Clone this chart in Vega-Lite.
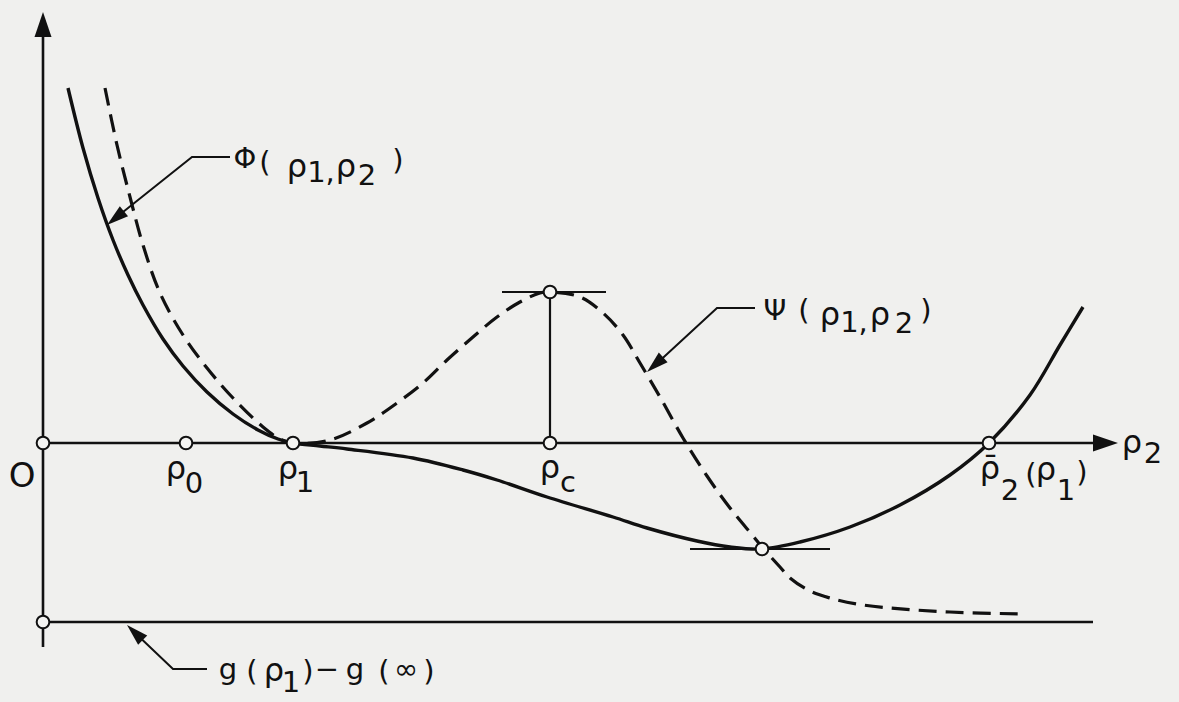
{
  "$schema": "https://vega.github.io/schema/vega-lite/v6.json",
  "autosize": {"type": "fit", "contains": "padding"},
  "width": 1179,
  "height": 702,
  "padding": 0,
  "background": "#f0f0ee",
  "config": {"view": {"stroke": null}},
  "datasets": {
    "phi": [
      {"x": 0.25, "y": 3.55}, {"x": 0.40, "y": 2.95}, {"x": 0.55, "y": 2.45}, {"x": 0.70, "y": 2.03},
      {"x": 0.85, "y": 1.68}, {"x": 1.00, "y": 1.38}, {"x": 1.20, "y": 1.04}, {"x": 1.40, "y": 0.77},
      {"x": 1.64, "y": 0.51}, {"x": 1.90, "y": 0.29}, {"x": 2.15, "y": 0.13}, {"x": 2.35, "y": 0.04},
      {"x": 2.50, "y": 0.00}, {"x": 2.77, "y": -0.03}, {"x": 3.04, "y": -0.06}, {"x": 3.70, "y": -0.15},
      {"x": 4.20, "y": -0.27}, {"x": 4.54, "y": -0.37}, {"x": 5.04, "y": -0.54}, {"x": 5.70, "y": -0.74},
      {"x": 6.04, "y": -0.85}, {"x": 6.54, "y": -0.98}, {"x": 6.87, "y": -1.04}, {"x": 7.19, "y": -1.06},
      {"x": 7.57, "y": -0.99}, {"x": 8.07, "y": -0.84}, {"x": 8.57, "y": -0.62}, {"x": 9.07, "y": -0.32},
      {"x": 9.46, "y": 0.00}, {"x": 9.87, "y": 0.48}, {"x": 10.17, "y": 0.98}, {"x": 10.40, "y": 1.36}
    ],
    "psi": [
      {"x": 0.62, "y": 3.55}, {"x": 0.74, "y": 2.98}, {"x": 0.87, "y": 2.46}, {"x": 1.00, "y": 1.98},
      {"x": 1.17, "y": 1.50}, {"x": 1.40, "y": 1.08}, {"x": 1.64, "y": 0.75}, {"x": 1.90, "y": 0.45},
      {"x": 2.20, "y": 0.16}, {"x": 2.37, "y": 0.04}, {"x": 2.50, "y": 0.00}, {"x": 2.87, "y": 0.03},
      {"x": 3.24, "y": 0.20}, {"x": 3.54, "y": 0.40}, {"x": 3.80, "y": 0.60}, {"x": 4.04, "y": 0.83},
      {"x": 4.30, "y": 1.06}, {"x": 4.54, "y": 1.26}, {"x": 4.77, "y": 1.41}, {"x": 4.97, "y": 1.50},
      {"x": 5.07, "y": 1.51}, {"x": 5.37, "y": 1.46}, {"x": 5.60, "y": 1.30}, {"x": 5.80, "y": 1.08},
      {"x": 5.97, "y": 0.80}, {"x": 6.17, "y": 0.46}, {"x": 6.40, "y": 0.05}, {"x": 6.64, "y": -0.33},
      {"x": 6.87, "y": -0.65}, {"x": 7.10, "y": -0.93}, {"x": 7.19, "y": -1.04}, {"x": 7.37, "y": -1.24},
      {"x": 7.47, "y": -1.35}, {"x": 7.67, "y": -1.48}, {"x": 7.87, "y": -1.55}, {"x": 8.14, "y": -1.61},
      {"x": 8.47, "y": -1.65}, {"x": 9.07, "y": -1.69}, {"x": 9.80, "y": -1.71}
    ],
    "axes": [
      {"x": 0, "y": -2.04, "x2": 0, "y2": 4.12},
      {"x": 0, "y": 0, "x2": 10.55, "y2": 0},
      {"x": 0, "y": -1.79, "x2": 10.50, "y2": -1.79}
    ],
    "guides": [
      {"x": 5.07, "y": 0, "x2": 5.07, "y2": 1.51},
      {"x": 4.59, "y": 1.51, "x2": 5.63, "y2": 1.51},
      {"x": 6.47, "y": -1.06, "x2": 7.87, "y2": -1.06}
    ],
    "leaders": [
      {"id": "phi", "x": 1.87, "y": 2.86}, {"id": "phi", "x": 1.49, "y": 2.86}, {"id": "phi", "x": 0.70, "y": 2.23},
      {"id": "psi", "x": 7.12, "y": 1.35}, {"id": "psi", "x": 6.74, "y": 1.35}, {"id": "psi", "x": 6.10, "y": 0.76},
      {"id": "g", "x": 1.64, "y": -2.26}, {"id": "g", "x": 1.30, "y": -2.26}, {"id": "g", "x": 0.88, "y": -1.86}
    ],
    "heads": [
      {"kind": "axis", "x": 0, "y": 4.31, "heading": 0},
      {"kind": "axis", "x": 10.75, "y": 0, "heading": 90},
      {"kind": "leader", "x": 0.64, "y": 2.18, "heading": 231},
      {"kind": "leader", "x": 6.04, "y": 0.71, "heading": 228},
      {"kind": "leader", "x": 0.84, "y": -1.82, "heading": 314}
    ],
    "nodes": [
      {"x": 0, "y": 0}, {"x": 1.43, "y": 0}, {"x": 2.50, "y": 0}, {"x": 5.07, "y": 0},
      {"x": 5.07, "y": 1.51}, {"x": 9.46, "y": 0}, {"x": 7.19, "y": -1.06}, {"x": 0, "y": -1.79}
    ],
    "origin": [{"x": -0.21, "y": -0.44, "t": "O"}],
    "glyphs": [
      {"x": 2.02, "y": 2.75, "t": "Φ"}, {"x": 2.22, "y": 2.71, "t": "("}, {"x": 2.54, "y": 2.66, "t": "ρ"},
      {"x": 2.78, "y": 2.61, "t": "1,"}, {"x": 3.03, "y": 2.66, "t": "ρ"},
      {"x": 3.24, "y": 2.58, "t": "2"}, {"x": 3.55, "y": 2.73, "t": ")"},
      {"x": 7.32, "y": 1.23, "t": "Ψ"}, {"x": 7.61, "y": 1.23, "t": "("}, {"x": 7.87, "y": 1.18, "t": "ρ"},
      {"x": 8.11, "y": 1.11, "t": "1,"}, {"x": 8.37, "y": 1.18, "t": "ρ"},
      {"x": 8.61, "y": 1.10, "t": "2"}, {"x": 8.83, "y": 1.23, "t": ")"},
      {"x": 1.85, "y": -2.36, "t": "g"}, {"x": 2.09, "y": -2.38, "t": "("}, {"x": 2.31, "y": -2.38, "t": "ρ"},
      {"x": 2.48, "y": -2.49, "t": "1"}, {"x": 2.65, "y": -2.38, "t": ")"}, {"x": 2.84, "y": -2.36, "t": "−"},
      {"x": 3.12, "y": -2.36, "t": "g"}, {"x": 3.41, "y": -2.38, "t": "("}, {"x": 3.63, "y": -2.36, "t": "∞"},
      {"x": 3.86, "y": -2.38, "t": ")"},
      {"x": 1.33, "y": -0.36, "t": "ρ"}, {"x": 1.51, "y": -0.50, "t": "0"},
      {"x": 2.45, "y": -0.36, "t": "ρ"}, {"x": 2.62, "y": -0.49, "t": "1"},
      {"x": 5.07, "y": -0.35, "t": "ρ"}, {"x": 5.25, "y": -0.49, "t": "c"},
      {"x": 9.47, "y": -0.36, "t": "ρ̄"}, {"x": 9.67, "y": -0.57, "t": "2"}, {"x": 9.88, "y": -0.41, "t": "("},
      {"x": 10.03, "y": -0.37, "t": "ρ"}, {"x": 10.23, "y": -0.57, "t": "1"}, {"x": 10.39, "y": -0.39, "t": ")"},
      {"x": 10.89, "y": -0.10, "t": "ρ"}, {"x": 11.10, "y": -0.20, "t": "2"}
    ]
  },
  "encoding": {
    "x": {"field": "x", "type": "quantitative", "axis": null,
          "scale": {"domain": [-0.43, 11.36], "nice": false, "zero": false}},
    "y": {"field": "y", "type": "quantitative", "axis": null,
          "scale": {"domain": [-2.59, 4.43], "nice": false, "zero": false}}
  },
  "layer": [
    {
      "data": {"name": "axes"},
      "mark": {"type": "rule", "color": "#111111", "strokeWidth": 2.6},
      "encoding": {"x2": {"field": "x2"}, "y2": {"field": "y2"}}
    },
    {
      "data": {"name": "guides"},
      "mark": {"type": "rule", "color": "#111111", "strokeWidth": 2.2},
      "encoding": {"x2": {"field": "x2"}, "y2": {"field": "y2"}}
    },
    {
      "data": {"name": "leaders"},
      "mark": {"type": "line", "color": "#111111", "strokeWidth": 2},
      "encoding": {"detail": {"field": "id"}}
    },
    {
      "data": {"name": "phi"},
      "mark": {"type": "line", "color": "#111111", "strokeWidth": 3.4, "interpolate": "catmull-rom"},
      "encoding": {}
    },
    {
      "data": {"name": "psi"},
      "mark": {"type": "line", "color": "#111111", "strokeWidth": 3.2, "interpolate": "catmull-rom", "strokeDash": [18, 9]},
      "encoding": {}
    },
    {
      "data": {"name": "heads"},
      "transform": [{"filter": "datum.kind === 'axis'"}],
      "mark": {"type": "point", "shape": "M0,0L0.34,1L-0.34,1Z", "filled": true, "color": "#111111", "size": 2500, "opacity": 1},
      "encoding": {"angle": {"field": "heading", "type": "quantitative", "scale": null}}
    },
    {
      "data": {"name": "heads"},
      "transform": [{"filter": "datum.kind === 'leader'"}],
      "mark": {"type": "point", "shape": "M0,0L0.3,1L-0.3,1Z", "filled": true, "color": "#111111", "size": 1900, "opacity": 1},
      "encoding": {"angle": {"field": "heading", "type": "quantitative", "scale": null}}
    },
    {
      "data": {"name": "nodes"},
      "mark": {"type": "point", "shape": "circle", "filled": true, "fill": "#f4f4f2", "stroke": "#111111", "strokeWidth": 2, "size": 160, "opacity": 1}
    },
    {
      "data": {"name": "origin"},
      "mark": {"type": "text", "font": "DejaVu Sans", "fontSize": 34, "align": "center", "baseline": "alphabetic", "color": "#111111"},
      "encoding": {"text": {"field": "t"}}
    },
    {
      "data": {"name": "glyphs"},
      "transform": [{"filter": "indexof(datum.t, 'ρ') < 0"}],
      "mark": {"type": "text", "font": "DejaVu Sans", "fontSize": 29, "align": "center", "baseline": "alphabetic", "color": "#111111"},
      "encoding": {"text": {"field": "t"}}
    },
    {
      "data": {"name": "glyphs"},
      "transform": [{"filter": "indexof(datum.t, 'ρ') >= 0"}],
      "mark": {"type": "text", "font": "DejaVu Sans", "fontSize": 32, "align": "center", "baseline": "alphabetic", "color": "#111111"},
      "encoding": {"text": {"field": "t"}}
    }
  ]
}
